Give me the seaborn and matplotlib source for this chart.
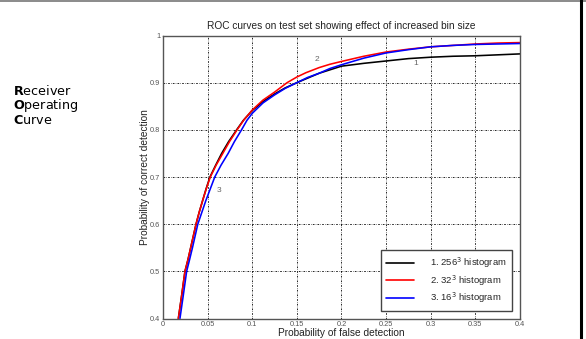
import matplotlib
matplotlib.use("Agg")
import matplotlib.pyplot as plt
from matplotlib.lines import Line2D
import seaborn as sns
import pandas as pd

# ── data ───────────────────────────────────────────────────────────────────
black_x = [0.0172, 0.021, 0.0246, 0.028, 0.031, 0.037, 0.0405, 0.0444, 0.0483,
           0.0526, 0.059, 0.0657, 0.0735, 0.0825, 0.090, 0.100, 0.112, 0.125,
           0.137, 0.150, 0.175, 0.200, 0.225, 0.250, 0.275, 0.300, 0.325, 0.350,
           0.375, 0.400]
black_y = [0.40, 0.45, 0.50, 0.525, 0.55, 0.60, 0.625, 0.65, 0.675,
           0.70, 0.725, 0.75, 0.775, 0.80, 0.82, 0.841, 0.86, 0.876,
           0.889, 0.900, 0.920, 0.935, 0.941, 0.946, 0.951, 0.954, 0.956, 0.957,
           0.959, 0.961]

red_x = [0.0172, 0.021, 0.0246, 0.028, 0.031, 0.037, 0.0405, 0.0444, 0.0485,
         0.053, 0.0595, 0.067, 0.0745, 0.083, 0.091, 0.100, 0.112, 0.125,
         0.139, 0.150, 0.160, 0.175, 0.187, 0.200, 0.225, 0.250, 0.275, 0.300,
         0.325, 0.350, 0.375, 0.400]
red_y = [0.40, 0.45, 0.50, 0.525, 0.55, 0.60, 0.625, 0.65, 0.675,
         0.70, 0.725, 0.75, 0.775, 0.80, 0.822, 0.842, 0.863, 0.880,
         0.900, 0.912, 0.921, 0.932, 0.939, 0.945, 0.956, 0.965, 0.971, 0.976,
         0.979, 0.982, 0.984, 0.985]

blue_x = [0.019, 0.0228, 0.0265, 0.0298, 0.033, 0.039, 0.0435, 0.048, 0.053,
          0.058, 0.065, 0.073, 0.080, 0.088, 0.094, 0.100, 0.112, 0.125,
          0.137, 0.150, 0.162, 0.175, 0.187, 0.200, 0.225, 0.250, 0.275, 0.300,
          0.325, 0.350, 0.375, 0.400]
blue_y = [0.40, 0.45, 0.50, 0.525, 0.55, 0.60, 0.625, 0.65, 0.675,
          0.70, 0.725, 0.75, 0.775, 0.80, 0.82, 0.835, 0.857, 0.874,
          0.888, 0.900, 0.911, 0.920, 0.930, 0.938, 0.952, 0.963, 0.970, 0.976,
          0.979, 0.981, 0.982, 0.983]

series_names = ["1. 256$^3$ histogram", "2. 32$^3$ histogram", "3. 16$^3$ histogram"]
series_colors = ["black", "red", "blue"]
curve_tags = ["1", "2", "3"]
tag_pos = [(0.283, 0.941), (0.172, 0.949), (0.063, 0.671)]

x_ticks = [0, 0.05, 0.1, 0.15, 0.2, 0.25, 0.3, 0.35, 0.4]
x_ticklabels = ["0", "0.05", "0.1", "0.15", "0.2", "0.25", "0.3", "0.35", "0.4"]
y_ticks = [0.4, 0.5, 0.6, 0.7, 0.8, 0.9, 1.0]
y_ticklabels = ["0.4", "0.5", "0.6", "0.7", "0.8", "0.9", "1"]

side_words = [("R", "eceiver"), ("O", "perating"), ("C", "urve")]

df = pd.concat([
    pd.DataFrame({"fpr": xs, "tpr": ys, "curve": name})
    for xs, ys, name in zip([black_x, red_x, blue_x],
                            [black_y, red_y, blue_y], series_names)
])

sns.set_style("white")
plt.rcParams["font.family"] = ["Liberation Sans", "DejaVu Sans"]

W, H = 586, 339
fig = plt.figure(figsize=(W / 100, H / 100), dpi=100)
ax = fig.add_axes([163 / W, 1 - 318.5 / H, 357 / W, 283 / H])

sns.lineplot(data=df, x="fpr", y="tpr", hue="curve", estimator=None,
             palette=dict(zip(series_names, series_colors)), linewidth=1.15,
             ax=ax, legend=False)

ax.set_xlim(0, 0.4)
ax.set_ylim(0.4, 1.0)
ax.set_xticks(x_ticks)
ax.set_xticklabels(x_ticklabels)
ax.set_yticks(y_ticks)
ax.set_yticklabels(y_ticklabels)
ax.tick_params(direction="in", length=3, width=0.8, color="#555555",
               labelsize=5.3, labelcolor="#555555", pad=2)
ax.grid(True, color="black", linestyle=(0, (2, 1.5, 0.6, 1.5)), linewidth=0.6)
for sp in ax.spines.values():
    sp.set_color("#555555")
    sp.set_linewidth(1.0)

ax.set_title("ROC curves on test set showing effect of increased bin size",
             fontsize=7.3, pad=4.5, color="#222222")
ax.set_xlabel("Probability of false detection", fontsize=7.3, color="#222222",
              va="top")
ax.xaxis.set_label_coords(0.5, -0.035)
ax.set_ylabel("Probability of correct detection", fontsize=7.3, color="#222222")
ax.yaxis.set_label_coords(-0.036, 0.5)

for tag, (tx, ty) in zip(curve_tags, tag_pos):
    ax.text(tx, ty, tag, fontsize=6, color="#666666", ha="center", va="center")

handles = [Line2D([], [], color=c, lw=1.2) for c in series_colors]
leg = ax.legend(handles, series_names, loc="lower right",
                bbox_to_anchor=(0.978, 0.027), borderaxespad=0,
                fontsize=6.8, frameon=True, fancybox=False, framealpha=1,
                edgecolor="#444444", handlelength=2.9, handletextpad=1.7,
                labelspacing=0.3, borderpad=0.6)
leg.get_frame().set_linewidth(1.0)

# side caption with bold initials
for i, (first, rest) in enumerate(side_words):
    fig.text(12.7 / W, 1 - (95 + 14.5 * i) / H,
             r"$\mathbf{" + first + "}$" + rest,
             fontsize=9.2, family="DejaVu Sans", va="baseline", ha="left",
             color="black")

# slide borders
fig.add_artist(Line2D([0, 1], [1 - 0.7 / H, 1 - 0.7 / H], color="#777777",
                      lw=1.2, transform=fig.transFigure))
fig.add_artist(Line2D([581.3 / W, 581.3 / W], [0, 1], color="black",
                      lw=2.2, transform=fig.transFigure))

fig.savefig("out.png", dpi=100)
plt.close(fig)
